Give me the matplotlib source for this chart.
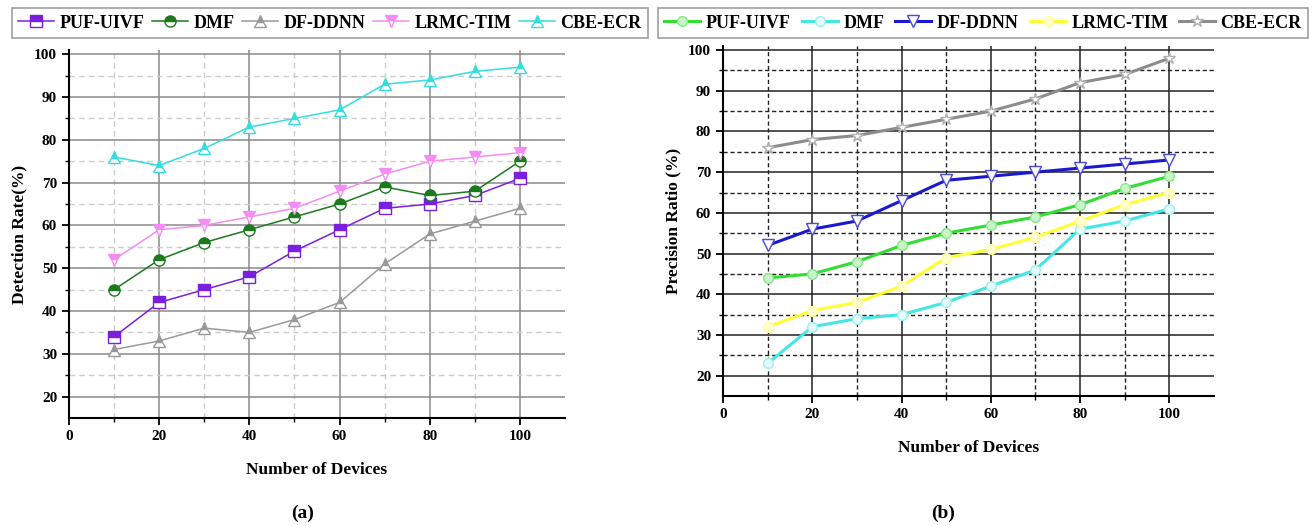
import numpy as np
import matplotlib.pyplot as plt

plt.rcParams['font.family'] = ['Liberation Serif', 'DejaVu Serif']
plt.rcParams['font.weight'] = 'bold'

devices = [10, 20, 30, 40, 50, 60, 70, 80, 90, 100]
names = ['PUF-UIVF', 'DMF', 'DF-DDNN', 'LRMC-TIM', 'CBE-ECR']

# (a) Detection rate
det_puf = [34, 42, 45, 48, 54, 59, 64, 65, 67, 71]
det_dmf = [45, 52, 56, 59, 62, 65, 69, 67, 68, 75]
det_ddnn = [31, 33, 36, 35, 38, 42, 51, 58, 61, 64]
det_lrmc = [52, 59, 60, 62, 64, 68, 72, 75, 76, 77]
det_cbe = [76, 74, 78, 83, 85, 87, 93, 94, 96, 97]

# (b) Precision ratio
pre_puf = [44, 45, 48, 52, 55, 57, 59, 62, 66, 69]
pre_dmf = [23, 32, 34, 35, 38, 42, 46, 56, 58, 61]
pre_ddnn = [52, 56, 58, 63, 68, 69, 70, 71, 72, 73]
pre_lrmc = [32, 36, 38, 42, 49, 51, 54, 58, 62, 65]
pre_cbe = [76, 78, 79, 81, 83, 85, 88, 92, 94, 98]

fig = plt.figure(figsize=(13.12, 5.26), dpi=100)
ax1 = fig.add_axes([69/1312, 1-418/526, 496/1312, 368/526])
ax2 = fig.add_axes([723/1312, 1-396/526, 491/1312, 350/526])


def style_axes(ax, major_col, minor_col, minor_ls):
    ax.set_xlim(0, 110)
    ax.set_ylim(15, 101)
    ax.set_xticks(np.arange(0, 101, 20))
    ax.set_xticks(np.arange(10, 101, 20), minor=True)
    ax.set_yticks(np.arange(20, 101, 10))
    ax.set_yticks(np.arange(25, 100, 10), minor=True)
    ax.grid(True, which='major', color=major_col, linewidth=1.1, linestyle='-')
    ax.grid(True, which='minor', color=minor_col, linewidth=1.0, linestyle=minor_ls)
    ax.set_axisbelow(True)
    for s in ['top', 'right']:
        ax.spines[s].set_visible(False)
    for s in ['left', 'bottom']:
        ax.spines[s].set_linewidth(1.5)
    ax.tick_params(which='major', direction='out', length=5, width=1.3, labelsize=11)
    ax.tick_params(which='minor', direction='out', length=3, width=1.0)
    for lab in ax.get_xticklabels() + ax.get_yticklabels():
        lab.set_fontweight('bold')
    ax.set_xlabel('Number of Devices', fontsize=12.5, fontweight='bold', labelpad=14)


style_axes(ax1, '#8a8a8a', '#cccccc', (0, (4, 3)))
style_axes(ax2, '#222222', '#222222', (0, (3, 2)))
ax1.set_ylabel('Detection Rate(%)', fontsize=12.5, fontweight='bold', labelpad=5)
ax2.set_ylabel('Precision Ratio (%)', fontsize=12.5, fontweight='bold', labelpad=5)

# left panel: thin lines with half-filled markers
left_series = [det_puf, det_dmf, det_ddnn, det_lrmc, det_cbe]
left_cols = ['#7a1fe0', '#1b7a1b', '#999999', '#f48cf4', '#33dede']
left_marks = ['s', 'o', '^', 'v', '^']
h1 = []
for vals, c, m, n in zip(left_series, left_cols, left_marks, names):
    ln, = ax1.plot(devices, vals, color=c, linewidth=1.1, marker=m, markersize=8,
                   fillstyle='top', markerfacecolor=c, markerfacecoloralt='white',
                   markeredgecolor=c, markeredgewidth=1.0, label=n)
    h1.append(ln)

# right panel: thicker lines with small pale open markers
right_series = [pre_puf, pre_dmf, pre_ddnn, pre_lrmc, pre_cbe]
right_cols = ['#33dd33', '#44e6e6', '#1a1acc', '#ffff33', '#8c8c8c']
right_face = ['#c8f5c8', '#e6fbfb', '#ffffff', '#ffffd0', '#ffffff']
right_edge = ['#88e888', '#99f0f0', '#4a4ae0', '#ffff99', '#b0b0b0']
right_marks = ['o', 'o', 'v', 'o', '*']
right_sizes = [7, 7, 9, 7, 9]
h2 = []
for vals, c, fc, ec, m, ms, n in zip(right_series, right_cols, right_face, right_edge,
                                     right_marks, right_sizes, names):
    ln, = ax2.plot(devices, vals, color=c, linewidth=2.2, marker=m, markersize=ms,
                   markerfacecolor=fc, markeredgecolor=ec, markeredgewidth=1.0,
                   label=n)
    h2.append(ln)

leg_kw = dict(ncol=5, mode='expand', loc='lower left', borderaxespad=0,
              frameon=True, fancybox=False, handlelength=2.0,
              handletextpad=0.3, columnspacing=0.4, borderpad=0.35,
              prop={'weight': 'bold', 'size': 13})
l1 = fig.legend(handles=h1, bbox_to_anchor=(12/1312, 1-38/526, 636/1312, 30/526), **leg_kw)
l2 = fig.legend(handles=h2, bbox_to_anchor=(658/1312, 1-38/526, 650/1312, 30/526), **leg_kw)
for lg in (l1, l2):
    lg.get_frame().set_edgecolor('#888888')
    lg.get_frame().set_linewidth(1.2)

fig.text(303/1312, 1-513/526, '(a)', fontsize=14, fontweight='bold', ha='center', va='center')
fig.text(943/1312, 1-513/526, '(b)', fontsize=14, fontweight='bold', ha='center', va='center')

fig.savefig('out.png', dpi=100)
